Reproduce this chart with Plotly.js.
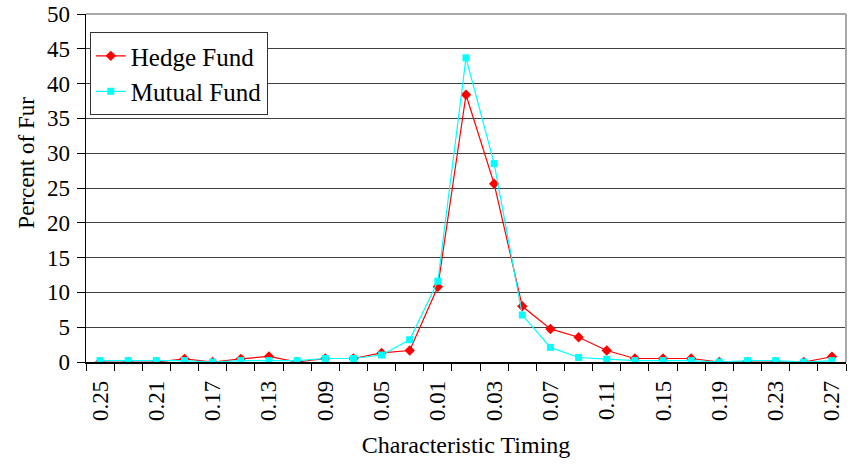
<!DOCTYPE html>
<html>
<head>
<meta charset="utf-8">
<script src="https://cdn.plot.ly/plotly-3.0.1.min.js"></script>
<style>html,body{margin:0;padding:0;background:#fff;}#chart{width:854px;height:468px;}</style>
</head>
<body>
<div id="chart"></div>
<script>
// Categories (characteristic timing bins)
const timing = ["-0.25","-0.23","-0.21","-0.19","-0.17","-0.15","-0.13","-0.11","-0.09","-0.07","-0.05","-0.03","-0.01",
                "0.01","0.03","0.05","0.07","0.09","0.11","0.13","0.15","0.17","0.19","0.21","0.23","0.25","0.27"];
// Tick labels as printed on the chart (every other bin)
const tickLabelsShown = ["0.25","0.21","0.17","0.13","0.09","0.05","0.01","0.03","0.07","0.11","0.15","0.19","0.23","0.27"];
// Series values (percent of funds)
const hedgeFund  = [0, 0, 0, 0.45, 0, 0.45, 0.8, 0, 0.5, 0.5, 1.3, 1.65, 10.8, 38.4, 25.6, 8.0, 4.75, 3.55, 1.65, 0.5, 0.5, 0.5, 0, 0, 0, 0, 0.75];
const mutualFund = [0.2, 0.2, 0.2, 0.2, 0, 0.2, 0.2, 0.2, 0.5, 0.5, 1.0, 3.2, 11.6, 43.7, 28.5, 6.75, 2.1, 0.65, 0.4, 0.2, 0.2, 0.2, 0, 0.2, 0.2, 0, 0.2];

const ticktext = timing.map((c, i) => (i % 2 === 0 ? tickLabelsShown[i / 2] : ""));

const font = "Liberation Serif";

const traces = [
  {
    type: "scatter", mode: "lines+markers", name: "Hedge Fund",
    x: timing, y: hedgeFund,
    line: {color: "#ff0000", width: 1.2},
    marker: {symbol: "diamond", size: 8, color: "#ff0000"},
    legendgroup: "a"
  },
  {
    type: "scatter", mode: "lines+markers", name: "Mutual Fund",
    x: timing, y: mutualFund,
    line: {color: "#00ffff", width: 1.2},
    marker: {symbol: "square", size: 7, color: "#00ffff"},
    legendgroup: "b"
  }
];

const layout = {
  width: 854, height: 468,
  margin: {l: 86, r: 8, t: 14, b: 106},
  paper_bgcolor: "#fff", plot_bgcolor: "#fff",
  font: {family: font, color: "#000", size: 23},
  showlegend: true,
  legend: {
    x: 0.005, y: 0.948, xanchor: "left", yanchor: "top",
    bgcolor: "#fff", bordercolor: "#333", borderwidth: 1,
    font: {family: font, size: 25, color: "#000"},
    tracegroupgap: 0
  },
  xaxis: {
    type: "category",
    tickmode: "array", tickvals: timing, ticktext: ticktext,
    tickson: "boundaries",
    ticks: "outside", ticklen: 7, tickcolor: "#000", tickwidth: 1,
    tickangle: -90,
    tickfont: {family: font, size: 23, color: "#000"},
    ticklabelstandoff: 8,
    showline: true, linecolor: "#000", linewidth: 1.5,
    showgrid: false, zeroline: false,
    range: [-0.5, 26.5],
    title: {text: "Characteristic Timing", font: {family: font, size: 24, color: "#000"}, standoff: 16}
  },
  yaxis: {
    range: [0, 50], dtick: 5, tick0: 0,
    ticks: "outside", ticklen: 8, tickcolor: "#000", tickwidth: 1,
    tickfont: {family: font, size: 23, color: "#000"},
    ticklabelstandoff: 2,
    showline: true, linecolor: "#000", linewidth: 1.5,
    showgrid: true, gridcolor: "#404040", gridwidth: 1,
    zeroline: false
  },
  shapes: [
    {type: "line", xref: "paper", yref: "paper", x0: 0, x1: 1, y0: 1, y1: 1, line: {color: "#a8a8a8", width: 2}},
    {type: "line", xref: "paper", yref: "paper", x0: 1, x1: 1, y0: 0, y1: 1, line: {color: "#a8a8a8", width: 2}}
  ],
  annotations: [
    {text: "Percent of Fur", xref: "paper", yref: "paper", x: -0.078, y: 0.572,
     xanchor: "center", yanchor: "middle", textangle: -90, showarrow: false,
     font: {family: font, size: 23, color: "#000"}}
  ]
};

Plotly.newPlot("chart", traces, layout, {displayModeBar: false, staticPlot: true});
</script>
</body>
</html>
